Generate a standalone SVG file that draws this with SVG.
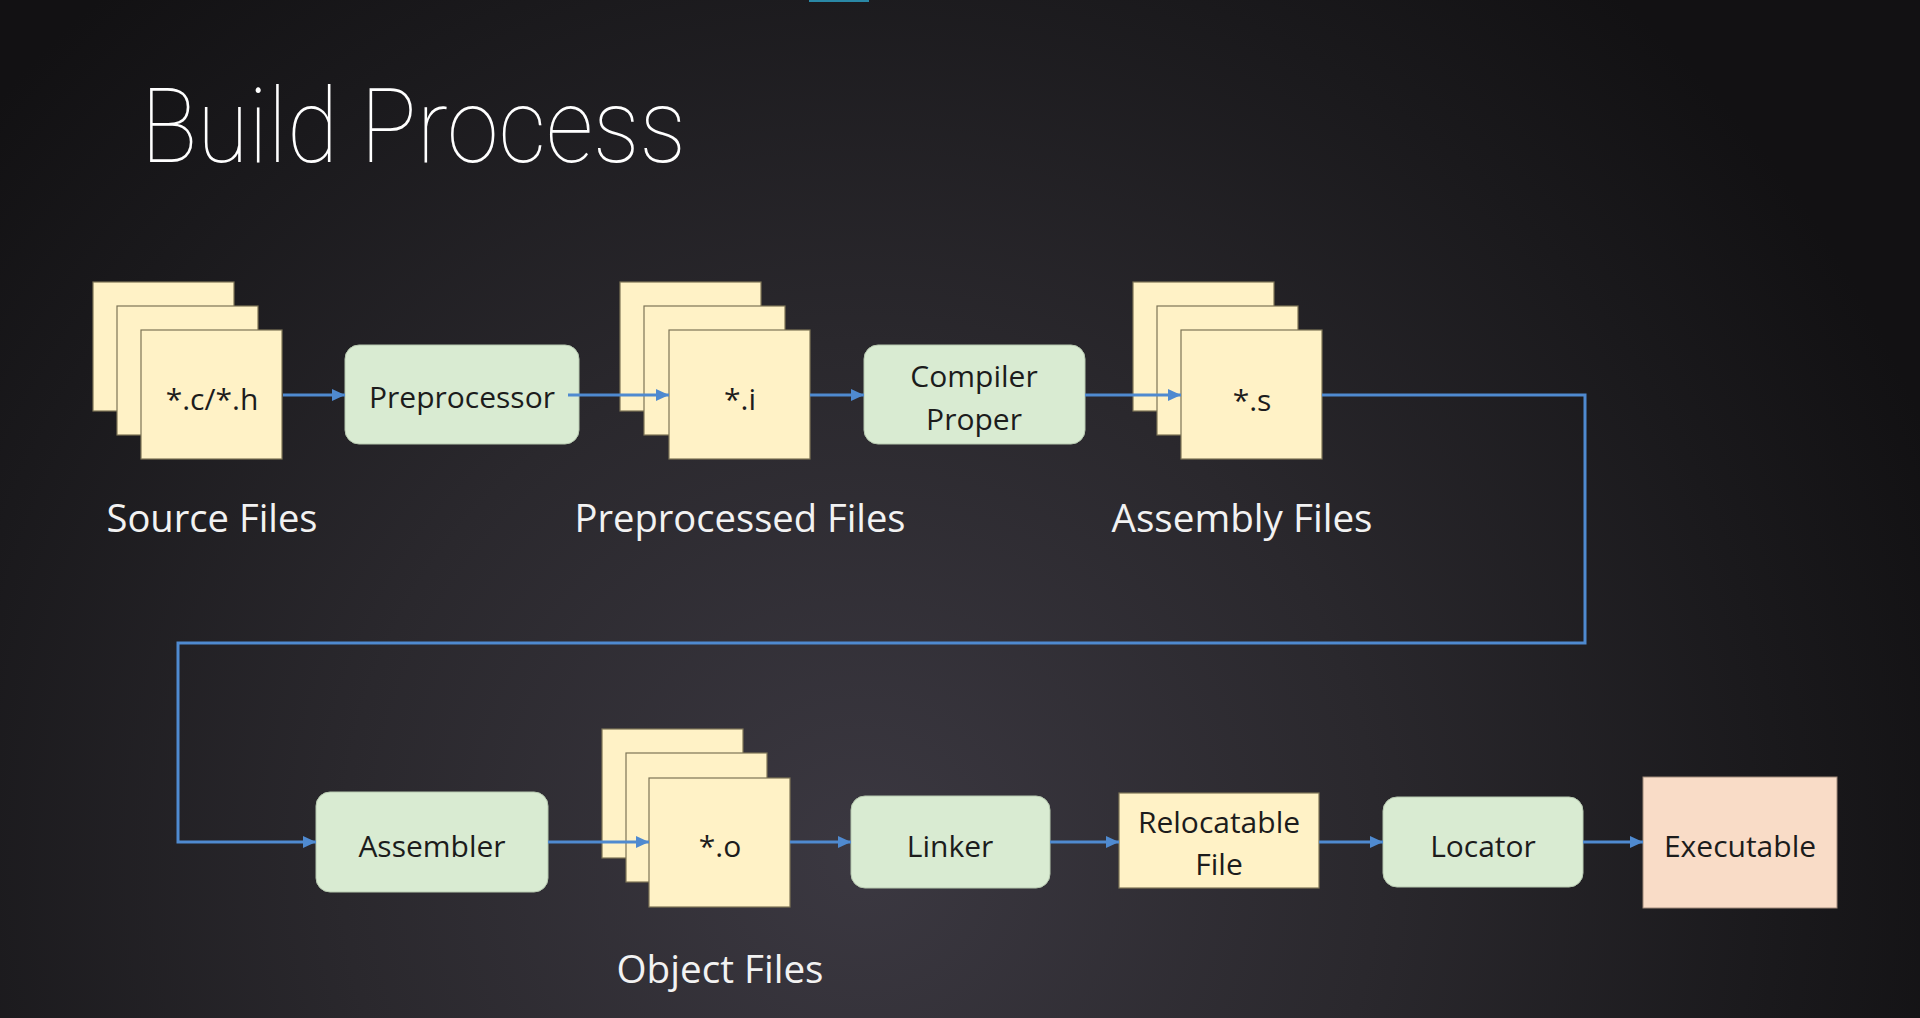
<svg xmlns="http://www.w3.org/2000/svg" width="1920" height="1018" viewBox="0 0 1920 1018">
<defs>
<radialGradient id="bg" cx="860" cy="860" r="1150" gradientUnits="userSpaceOnUse">
<stop offset="0" stop-color="#3b3841"/>
<stop offset="0.45" stop-color="#2a282d"/>
<stop offset="0.8" stop-color="#1a191c"/>
<stop offset="1" stop-color="#121113"/>
</radialGradient>
<marker id="ah" markerUnits="userSpaceOnUse" markerWidth="14" markerHeight="12" refX="13" refY="6" orient="auto">
<path d="M0,0 L13,6 L0,12 Z" fill="#4f8ad0"/>
</marker>
<style>
.file{fill:#fff2c6;stroke:#7d7456;stroke-width:1.2}
.proc{fill:#d9ebd2;stroke:#b7c9b0;stroke-width:1}
.exe{fill:#f9dcc7;stroke:#a08a7a;stroke-width:1}
.t{font-family:"Open Sans","Noto Sans",sans-serif;font-size:30px;fill:#1c1c1c;text-anchor:middle}
.cap{font-family:"Open Sans","Noto Sans",sans-serif;font-size:38px;fill:#f2f2f2;text-anchor:middle}
.ln{fill:none;stroke:#4f8ad0;stroke-width:3}
</style>
</defs>
<rect x="0" y="0" width="1920" height="1018" fill="url(#bg)"/>
<rect x="809" y="0" width="60" height="2" fill="#2a88a6"/>
<text x="141" y="162" font-family="Roboto,'Open Sans',sans-serif" font-weight="100" font-size="104" fill="#ffffff" textLength="545" lengthAdjust="spacingAndGlyphs">Build Process</text>

<g id="source-files">
<rect class="file" x="93" y="282" width="141" height="129"/>
<rect class="file" x="117" y="306" width="141" height="129"/>
<rect class="file" x="141" y="330" width="141" height="129"/>
<text class="t" x="212" y="410">*.c/*.h</text>
<text class="cap" x="212" y="532" textLength="211" lengthAdjust="spacingAndGlyphs">Source Files</text>
</g>
<g id="preprocessor">
<rect class="proc" x="345" y="345" width="234" height="99" rx="14"/>
<text class="t" x="462" y="408">Preprocessor</text>
</g>
<g id="preprocessed-files">
<rect class="file" x="620" y="282" width="141" height="129"/>
<rect class="file" x="644" y="306" width="141" height="129"/>
<rect class="file" x="669" y="330" width="141" height="129"/>
<text class="t" x="740" y="410">*.i</text>
<text class="cap" x="740" y="532" textLength="331" lengthAdjust="spacingAndGlyphs">Preprocessed Files</text>
</g>
<g id="compiler-proper">
<rect class="proc" x="864" y="345" width="221" height="99" rx="14"/>
<text class="t" x="974" y="387">Compiler</text>
<text class="t" x="974" y="430">Proper</text>
</g>
<g id="assembly-files">
<rect class="file" x="1133" y="282" width="141" height="129"/>
<rect class="file" x="1157" y="306" width="141" height="129"/>
<rect class="file" x="1181" y="330" width="141" height="129"/>
<text class="t" x="1252" y="411">*.s</text>
<text class="cap" x="1242" y="532" textLength="261" lengthAdjust="spacingAndGlyphs">Assembly Files</text>
</g>
<g id="assembler">
<rect class="proc" x="316" y="792" width="232" height="100" rx="14"/>
<text class="t" x="432" y="857">Assembler</text>
</g>
<g id="object-files">
<rect class="file" x="602" y="729" width="141" height="129"/>
<rect class="file" x="626" y="753" width="141" height="129"/>
<rect class="file" x="649" y="778" width="141" height="129"/>
<text class="t" x="720" y="857">*.o</text>
<text class="cap" x="720" y="983" textLength="207" lengthAdjust="spacingAndGlyphs">Object Files</text>
</g>
<g id="linker">
<rect class="proc" x="851" y="796" width="199" height="92" rx="14"/>
<text class="t" x="950" y="857">Linker</text>
</g>
<g id="relocatable-file">
<rect class="file" x="1119" y="793" width="200" height="95"/>
<text class="t" x="1219" y="833">Relocatable</text>
<text class="t" x="1219" y="875">File</text>
</g>
<g id="locator">
<rect class="proc" x="1383" y="797" width="200" height="90" rx="14"/>
<text class="t" x="1483" y="857">Locator</text>
</g>
<g id="executable">
<rect class="exe" x="1643" y="777" width="194" height="131"/>
<text class="t" x="1740" y="857">Executable</text>
</g>

<g id="connectors">
<path class="ln" d="M283,395 H345" marker-end="url(#ah)"/>
<path class="ln" d="M568,395 H669" marker-end="url(#ah)"/>
<path class="ln" d="M810,395 H864" marker-end="url(#ah)"/>
<path class="ln" d="M1085,395 H1181" marker-end="url(#ah)"/>
<path class="ln" d="M1322,395 H1585 V643 H178 V842 H316" marker-end="url(#ah)"/>
<path class="ln" d="M548,842 H649" marker-end="url(#ah)"/>
<path class="ln" d="M790,842 H851" marker-end="url(#ah)"/>
<path class="ln" d="M1050,842 H1119" marker-end="url(#ah)"/>
<path class="ln" d="M1319,842 H1383" marker-end="url(#ah)"/>
<path class="ln" d="M1583,842 H1643" marker-end="url(#ah)"/>
</g>
</svg>
